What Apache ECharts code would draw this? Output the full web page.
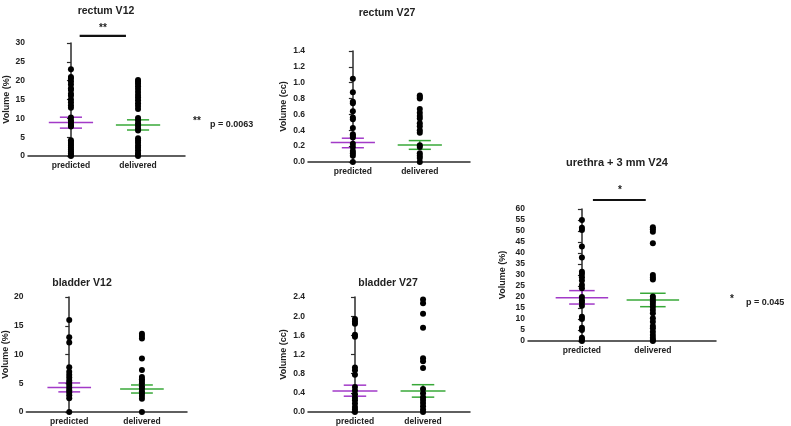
<!DOCTYPE html>
<html>
<head>
<meta charset="utf-8">
<script src="https://cdn.jsdelivr.net/npm/echarts@6/dist/echarts.min.js"></script>
<style>html,body{margin:0;padding:0;background:#fff}#c{width:791px;height:426px}</style>
</head>
<body>
<div id="c"></div>
<script>
// ---------------- data ----------------
const categories = ['predicted', 'delivered'];

// rectum V12 (Volume %)
const rectumV12Predicted = [23, 21, 20.5, 19.8, 19, 18, 17.5, 16.5, 16, 15, 14.3, 13.5, 12.8, 10.2, 9.5, 9, 8.5, 8, 7.8, 4.2, 3.7, 3.2, 2.7, 2.2, 1.7, 1.2, 0.7, 0.2, 0];
const rectumV12Delivered = [20.2, 19.7, 19.2, 18.5, 17.8, 17, 16.2, 15.5, 14.8, 14, 13.3, 12.5, 10.1, 9.5, 8.7, 8, 7.3, 6.8, 4.7, 4.1, 3.5, 2.8, 2.2, 1.5, 0.8, 0.3, 0];
const rectumV12Mean = [8.9, 8.2];
const rectumV12SemLow = [7.4, 6.9];
const rectumV12SemHigh = [10.3, 9.6];

// rectum V27 (Volume cc)
const rectumV27Predicted = [1.05, 0.88, 0.76, 0.74, 0.64, 0.56, 0.54, 0.43, 0.35, 0.33, 0.31, 0.23, 0.19, 0.14, 0.11, 0.08, 0.0];
const rectumV27Delivered = [0.84, 0.82, 0.80, 0.67, 0.62, 0.58, 0.55, 0.49, 0.45, 0.40, 0.37, 0.21, 0.19, 0.11, 0.08, 0.05, 0.0];
const rectumV27Mean = [0.245, 0.214];
const rectumV27SemLow = [0.18, 0.16];
const rectumV27SemHigh = [0.30, 0.27];

// urethra + 3 mm V24 (Volume %)
const urethraPredicted = [55, 51.5, 50.5, 43, 38, 31.5, 30.5, 29, 27.5, 25.5, 24, 20, 18.5, 17.5, 16, 11, 10, 6, 5, 1.5, 0.8, 0];
const urethraDelivered = [51.7, 50.8, 49.7, 44.4, 30, 28.9, 28, 20.2, 19.1, 17.9, 16.8, 15.6, 14.1, 12.6, 10.3, 8.8, 6.8, 5.8, 4.2, 2.7, 1.5, 0.5, 0];
const urethraMean = [19.7, 18.6];
const urethraSemLow = [16.8, 15.6];
const urethraSemHigh = [22.9, 21.7];

// bladder V12 (Volume %)
const bladderV12Predicted = [16.0, 13.0, 12.1, 7.8, 7.0, 6.5, 6.0, 5.5, 5.1, 4.7, 4.2, 3.8, 3.4, 2.9, 2.4, 0];
const bladderV12Delivered = [13.6, 13.2, 12.8, 9.3, 7.3, 6.1, 5.7, 5.4, 5.0, 4.5, 4.1, 3.6, 3.2, 2.8, 2.3, 0];
const bladderV12Mean = [4.25, 4.0];
const bladderV12SemLow = [3.5, 3.3];
const bladderV12SemHigh = [5.05, 4.7];

// bladder V27 (Volume cc)
const bladderV27Predicted = [1.94, 1.89, 1.84, 1.61, 1.57, 0.93, 0.87, 0.78, 0.52, 0.45, 0.37, 0.30, 0.245, 0.175, 0.105, 0.05, 0];
const bladderV27Delivered = [2.35, 2.27, 2.05, 1.76, 1.12, 1.06, 0.92, 0.48, 0.39, 0.31, 0.25, 0.19, 0.12, 0.05, 0];
const bladderV27Mean = [0.44, 0.44];
const bladderV27SemLow = [0.33, 0.31];
const bladderV27SemHigh = [0.56, 0.57];

// tick settings
const rectumV12Ticks = {max: 30, interval: 5, decimals: 0};
const rectumV27Ticks = {max: 1.4, interval: 0.2, decimals: 1};
const urethraTicks = {max: 60, interval: 5, decimals: 0};
const bladderV12Ticks = {max: 20, interval: 5, decimals: 0};
const bladderV27Ticks = {max: 2.4, interval: 0.4, decimals: 1};

// ---------------- styles / layout ----------------
const FONT = '"Liberation Sans", Arial, sans-serif';
const AXIS_COLOR = '#2b2b2b';
const SERIES_COLORS = ['#a23ac8', '#38a838'];

const panels = [
  {grid: {left: 28, top: 43, width: 157, height: 113}, xr: [-0.64, 1.70], ticks: rectumV12Ticks, yName: 'Volume (%)', nameGap: 17,
   pred: rectumV12Predicted, del: rectumV12Delivered, mean: rectumV12Mean, lo: rectumV12SemLow, hi: rectumV12SemHigh, hm: 0.33, he: 0.165},
  {grid: {left: 308, top: 51, width: 162, height: 111}, xr: [-0.67, 1.75], ticks: rectumV27Ticks, yName: 'Volume (cc)', nameGap: 20,
   pred: rectumV27Predicted, del: rectumV27Delivered, mean: rectumV27Mean, lo: rectumV27SemLow, hi: rectumV27SemHigh, hm: 0.33, he: 0.165},
  {grid: {left: 528, top: 209, width: 188, height: 132}, xr: [-0.76, 1.89], ticks: urethraTicks, yName: 'Volume (%)', nameGap: 21,
   pred: urethraPredicted, del: urethraDelivered, mean: urethraMean, lo: urethraSemLow, hi: urethraSemHigh, hm: 0.37, he: 0.18},
  {grid: {left: 26, top: 297, width: 161, height: 115}, xr: [-0.59, 1.62], ticks: bladderV12Ticks, yName: 'Volume (%)', nameGap: 15,
   pred: bladderV12Predicted, del: bladderV12Delivered, mean: bladderV12Mean, lo: bladderV12SemLow, hi: bladderV12SemHigh, hm: 0.30, he: 0.15},
  {grid: {left: 308, top: 297, width: 162, height: 115}, xr: [-0.69, 1.69], ticks: bladderV27Ticks, yName: 'Volume (cc)', nameGap: 20,
   pred: bladderV27Predicted, del: bladderV27Delivered, mean: bladderV27Mean, lo: bladderV27SemLow, hi: bladderV27SemHigh, hm: 0.33, he: 0.165}
];

// significance bars in data units [panelIndex, xFrom, xTo, y]
const sigBars = [
  [0, 0.13, 0.82, 31.9],
  [2, 0.155, 0.90, 64.1]
];

const grids = [], xAxes = [], yAxes = [], series = [];
panels.forEach((p, i) => {
  grids.push(p.grid);
  xAxes.push({
    type: 'value', gridIndex: i, min: p.xr[0], max: p.xr[1],
    axisLine: {show: true, onZero: false, lineStyle: {color: AXIS_COLOR, width: 1.5}},
    axisTick: {show: false}, splitLine: {show: false},
    axisLabel: {customValues: [0, 1], formatter: v => categories[Math.round(v)] || '', margin: 5,
      fontFamily: FONT, fontSize: 8.5, fontWeight: 'bold', color: '#222'}
  });
  yAxes.push({
    type: 'value', gridIndex: i, min: 0, max: p.ticks.max, interval: p.ticks.interval,
    name: p.yName, nameLocation: 'middle', nameGap: p.nameGap, nameRotate: 90,
    nameTextStyle: {fontFamily: FONT, fontSize: 9, fontWeight: 'bold', color: '#222'},
    axisLine: {show: true, lineStyle: {color: AXIS_COLOR, width: 1.5}},
    axisTick: {show: true, length: 4, lineStyle: {color: AXIS_COLOR, width: 1.2}},
    splitLine: {show: false},
    axisLabel: {margin: 3, fontFamily: FONT, fontSize: 8.5, fontWeight: 'bold', color: '#222',
      formatter: v => Number(v).toFixed(p.ticks.decimals)}
  });
  // mean +/- SEM
  series.push({
    type: 'custom', xAxisIndex: i, yAxisIndex: i, z: 1, clip: false,
    data: p.mean.map((m, k) => [k, m, p.lo[k], p.hi[k]]),
    renderItem: (params, api) => {
      const x = api.value(0);
      const c = api.coord([x, api.value(1)]);
      const lo = api.coord([x, api.value(2)]);
      const hi = api.coord([x, api.value(3)]);
      const hw = api.size([p.hm, 0])[0];
      const he = api.size([p.he, 0])[0];
      const st = {stroke: SERIES_COLORS[params.dataIndex], lineWidth: 1.5};
      return {type: 'group', children: [
        {type: 'line', shape: {x1: c[0] - hw, y1: c[1], x2: c[0] + hw, y2: c[1]}, style: st},
        {type: 'line', shape: {x1: lo[0], y1: lo[1], x2: hi[0], y2: hi[1]}, style: st},
        {type: 'line', shape: {x1: lo[0] - he, y1: lo[1], x2: lo[0] + he, y2: lo[1]}, style: st},
        {type: 'line', shape: {x1: hi[0] - he, y1: hi[1], x2: hi[0] + he, y2: hi[1]}, style: st}
      ]};
    }
  });
  [p.pred, p.del].forEach((arr, k) => {
    series.push({
      type: 'scatter', xAxisIndex: i, yAxisIndex: i, z: 3, clip: false,
      symbol: 'circle', symbolSize: 6, itemStyle: {color: '#000', opacity: 1},
      data: arr.map(v => [k, v])
    });
  });
});

sigBars.forEach(b => {
  series.push({
    type: 'line', xAxisIndex: b[0], yAxisIndex: b[0], clip: false, symbol: 'none', z: 2,
    lineStyle: {color: '#111', width: 2.2},
    data: [[b[1], b[3]], [b[2], b[3]]]
  });
});

function txt(x, y, text, size, align) {
  return {type: 'text', x: x, y: y, style: {text: text, fontFamily: FONT, fontSize: size, fontWeight: 'bold',
    fill: '#222', textAlign: align || 'center', textVerticalAlign: 'middle'}};
}

const graphics = [
  txt(106, 11, 'rectum V12', 10.5),
  txt(387, 13, 'rectum V27', 10.5),
  txt(617, 163, 'urethra + 3 mm V24', 11),
  txt(82, 283, 'bladder V12', 10.5),
  txt(388, 283, 'bladder V27', 10.5),
  txt(103, 28, '**', 10),
  txt(620, 190, '*', 10),
  txt(197, 121, '**', 10),
  txt(210, 125, 'p = 0.0063', 9, 'left'),
  txt(732, 299, '*', 10),
  txt(746, 303, 'p = 0.045', 9, 'left')
];

const chart = echarts.init(document.getElementById('c'), null, {renderer: 'canvas'});
chart.setOption({
  animation: false,
  backgroundColor: '#fff',
  grid: grids, xAxis: xAxes, yAxis: yAxes, series: series, graphic: graphics
});
</script>
</body>
</html>
